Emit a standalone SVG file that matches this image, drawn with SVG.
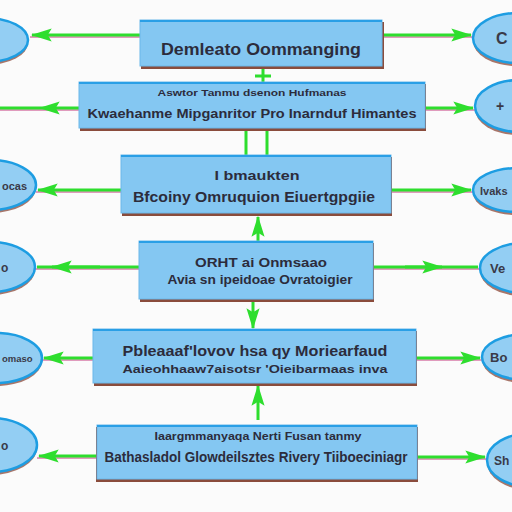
<svg xmlns="http://www.w3.org/2000/svg" width="512" height="512" viewBox="0 0 512 512">
<style>
.box{fill:#84c7f2;stroke:#6bb8ea;stroke-width:1}
.bsh{fill:#8a4c3c}
.btop{stroke:#2a9fe6;stroke-width:2}
.ell{fill:#93cef3;stroke:#1d9de2;stroke-width:2.5}
.esh{fill:#a8766a}
.con{stroke:#2ede2e;stroke-width:3;fill:none}
.csh{stroke:#d77aa8;stroke-width:1.5;fill:none}
.t{font-family:"Liberation Sans",Arial,sans-serif;font-weight:bold;fill:#2c2c3c;text-anchor:middle}
.e{font-family:"Liberation Sans",Arial,sans-serif;font-weight:bold;fill:#3a3a48;text-anchor:start}
</style>
<defs>
<marker id="ah" viewBox="0 0 16 10" refX="15" refY="5" markerWidth="7" markerHeight="4.4" orient="auto" markerUnits="strokeWidth">
<path d="M0,0 L16,5 L0,10 L3,5 z" fill="#2ede2e"/>
</marker>
</defs>
<rect width="512" height="512" fill="#fbfbfb"/>

<g id="connectors">
<g class="csh">
<path d="M140,37 H30"/><path d="M383,37 H473"/>
<path d="M79,110 H0"/><path d="M425,110 H475"/>
<path d="M121,192 H36"/><path d="M391,192 H473"/>
<path d="M139,269 H35"/><path d="M373,269 H480"/>
<path d="M93,360 H42"/><path d="M416,360 H482"/>
<path d="M97,458 H37"/><path d="M417,459 H487"/>
</g>
<path class="con" d="M140,35 H32" marker-end="url(#ah)"/>
<path class="con" d="M383,35 H471" marker-end="url(#ah)"/>
<path class="con" d="M40,108 H0"/>
<path class="con" d="M79,108 H40" marker-end="url(#ah)"/>
<path class="con" d="M425,108 H473" marker-end="url(#ah)"/>
<path class="con" d="M121,190 H38" marker-end="url(#ah)"/>
<path class="con" d="M391,190 H471" marker-end="url(#ah)"/>
<path class="con" d="M139,267 H37"/>
<path class="con" d="M100,267 H52" marker-end="url(#ah)"/>
<path class="con" d="M373,267 H478"/>
<path class="con" d="M405,267 H442" marker-end="url(#ah)"/>
<path class="con" d="M93,358 H44" marker-end="url(#ah)"/>
<path class="con" d="M416,358 H480" marker-end="url(#ah)"/>
<path class="con" d="M97,456 H39" marker-end="url(#ah)"/>
<path class="con" d="M417,457 H485" marker-end="url(#ah)"/>
<path class="con" d="M263,67 V82 M255,76 H271"/>
<path class="con" d="M246,129 V155 M267,129 V155"/>
<path class="con" d="M258,241 V217" marker-end="url(#ah)"/>
<path class="con" d="M253,300 V328" marker-end="url(#ah)"/>
<path class="con" d="M258,420 V386" marker-end="url(#ah)"/>
</g>

<g id="left-nodes">
<g id="L1"><ellipse class="esh" cx="-14" cy="43" rx="42" ry="22"/><ellipse class="ell" cx="-14" cy="40" rx="42" ry="22"/></g>
<g id="L3"><ellipse class="esh" cx="-10" cy="188" rx="46" ry="25"/><ellipse class="ell" cx="-10" cy="185" rx="46" ry="25"/><text class="e" x="2" y="190" font-size="11">ocas</text></g>
<g id="L4"><ellipse class="esh" cx="-10" cy="270" rx="45" ry="25"/><ellipse class="ell" cx="-10" cy="267" rx="45" ry="25"/><text class="e" x="1" y="272" font-size="12">o</text></g>
<g id="L5"><ellipse class="esh" cx="-4" cy="361" rx="46" ry="25"/><ellipse class="ell" cx="-4" cy="358" rx="46" ry="25"/><text class="e" x="2" y="362" font-size="9.5">omaso</text></g>
<g id="L6"><ellipse class="esh" cx="-10" cy="448" rx="47" ry="27"/><ellipse class="ell" cx="-10" cy="445" rx="47" ry="27"/><text class="e" x="1" y="450" font-size="12">o</text></g>
</g>

<g id="right-nodes">
<g id="R1"><ellipse class="esh" cx="516" cy="41" rx="43" ry="25"/><ellipse class="ell" cx="518" cy="38" rx="45" ry="25"/><text class="e" x="496" y="44" font-size="16">C</text></g>
<g id="R2"><ellipse class="esh" cx="518" cy="109" rx="43" ry="26"/><ellipse class="ell" cx="520" cy="106" rx="45" ry="26"/><text class="e" x="496" y="111" font-size="14">+</text></g>
<g id="R3"><ellipse class="esh" cx="516" cy="193" rx="43" ry="22"/><ellipse class="ell" cx="518" cy="190" rx="45" ry="22"/><text class="e" x="480" y="195" font-size="11">Ivaks</text></g>
<g id="R4"><ellipse class="esh" cx="523" cy="271" rx="43" ry="25"/><ellipse class="ell" cx="525" cy="268" rx="45" ry="25"/><text class="e" x="490" y="273" font-size="13">Ve</text></g>
<g id="R5"><ellipse class="esh" cx="525" cy="360" rx="43" ry="23"/><ellipse class="ell" cx="527" cy="357" rx="45" ry="23"/><text class="e" x="490" y="362" font-size="13">Bo</text></g>
<g id="R6"><ellipse class="esh" cx="530" cy="463" rx="43" ry="27"/><ellipse class="ell" cx="532" cy="460" rx="45" ry="27"/><text class="e" x="494" y="465" font-size="12">Sh</text></g>
</g>

<g id="box1"><rect class="bsh" x="141" y="22" width="243" height="47"/><rect class="box" x="140" y="20" width="242" height="46"/><path class="btop" d="M140,21 H382"/>
<text class="t" x="261" y="55" font-size="17" textLength="200" lengthAdjust="spacingAndGlyphs">Demleato Oommanging</text></g>

<g id="box2"><rect class="bsh" x="80" y="84" width="346" height="47"/><rect class="box" x="79" y="82" width="346" height="46"/><path class="btop" d="M79,83 H425"/>
<text class="t" x="252" y="96" font-size="9.5" textLength="189" lengthAdjust="spacingAndGlyphs">Aswtor Tanmu dsenon Hufmanas</text>
<text class="t" x="252" y="118" font-size="13.5" textLength="329" lengthAdjust="spacingAndGlyphs">Kwaehanme Mipganritor Pro Inarnduf Himantes</text></g>

<g id="box3"><rect class="bsh" x="122" y="157" width="270" height="59"/><rect class="box" x="121" y="155" width="270" height="58"/><path class="btop" d="M121,156 H391"/>
<text class="t" x="257" y="180" font-size="12.5" textLength="85" lengthAdjust="spacingAndGlyphs">I bmaukten</text>
<text class="t" x="254" y="202" font-size="14" textLength="242" lengthAdjust="spacingAndGlyphs">Bfcoiny  Omruquion  Eiuertgpgiie</text></g>

<g id="box4"><rect class="bsh" x="140" y="243" width="234" height="59"/><rect class="box" x="139" y="241" width="234" height="58"/><path class="btop" d="M139,242 H373"/>
<text class="t" x="261" y="267" font-size="12" textLength="132" lengthAdjust="spacingAndGlyphs">ORHT ai Onmsaao</text>
<text class="t" x="260" y="284" font-size="12" textLength="185" lengthAdjust="spacingAndGlyphs">Avia sn ipeidoae  Ovratoigier</text></g>

<g id="box5"><rect class="bsh" x="94" y="331" width="323" height="55"/><rect class="box" x="93" y="329" width="323" height="54"/><path class="btop" d="M93,330 H416"/>
<text class="t" x="255" y="356" font-size="14" textLength="265" lengthAdjust="spacingAndGlyphs">Pbleaaaf'lovov hsa qy  Moriearfaud</text>
<text class="t" x="255" y="373" font-size="11" textLength="265" lengthAdjust="spacingAndGlyphs">Aaieohhaaw7aisotsr  'Oieibarmaas inva</text></g>

<g id="box6"><rect class="bsh" x="96" y="427" width="322" height="55"/><rect class="box" x="97" y="425" width="320" height="54"/><path class="btop" d="M97,426 H417"/>
<text class="t" x="258" y="440" font-size="11" textLength="207" lengthAdjust="spacingAndGlyphs">Iaargmmanyaqa Nerti Fusan tanmy</text>
<text class="t" x="256" y="462" font-size="14" textLength="303" lengthAdjust="spacingAndGlyphs">Bathasladol Glowdeilsztes Rivery Tiiboeciniagr</text></g>
</svg>
